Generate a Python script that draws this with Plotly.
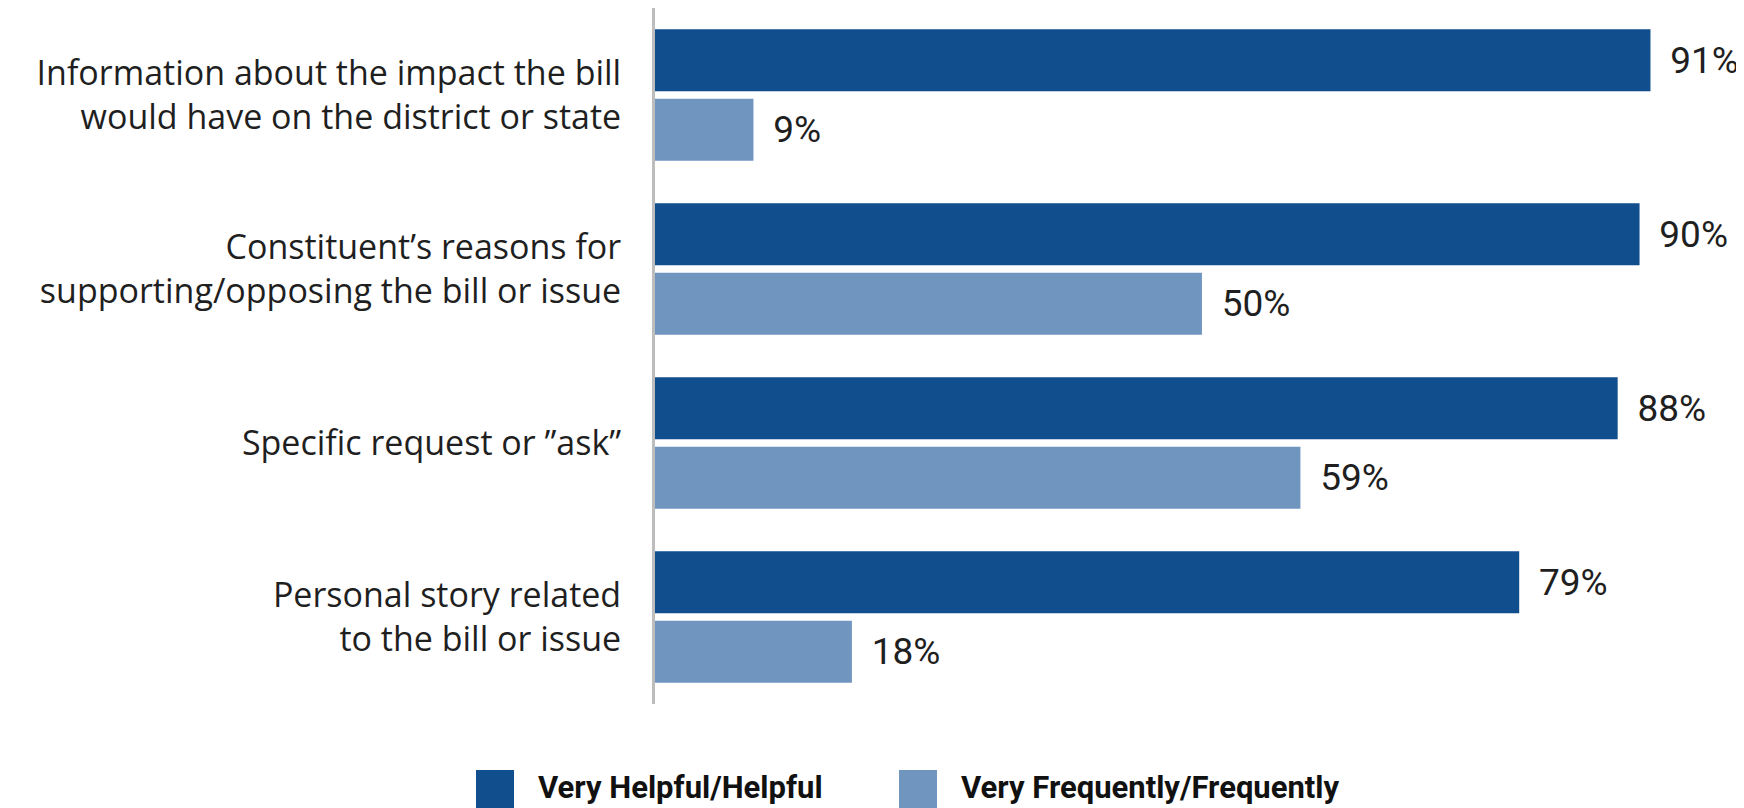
import plotly.graph_objects as go

categories = [
    "Information about the impact the bill<br>would have on the district or state",
    "Constituent’s reasons for<br>supporting/opposing the bill or issue",
    "Specific request or ”ask”",
    "Personal story related<br>to the bill or issue",
]
series_names = ["Very Helpful/Helpful", "Very Frequently/Frequently"]
helpful = [91, 90, 88, 79]
frequent = [9, 50, 59, 18]

colors = ["#114E8E", "#7096C0"]

W, H = 1736, 800
ML, MR, MT, MB = 647, 6, 0, 104
PW, PH = W - ML - MR, H - MT - MB

fig = go.Figure()
for name, vals, col in zip(series_names, [helpful, frequent], colors):
    fig.add_trace(go.Bar(
        y=categories, x=vals, name=name, orientation="h",
        marker=dict(color=col, line=dict(width=0)),
        text=[f"\u00a0\u2009{v}%" for v in vals],
        textposition="outside", cliponaxis=False, constraintext="none",
        textfont=dict(family="Roboto", size=37, color="#1f1f1f"),
        showlegend=False,
    ))

fig.update_layout(
    width=W, height=H,
    margin=dict(l=ML, r=MR, t=MT, b=MB),
    barmode="group", bargap=0.2, bargroupgap=0.11,
    plot_bgcolor="white", paper_bgcolor="white",
    xaxis=dict(range=[0, 99], visible=False),
    yaxis=dict(autorange="reversed", showline=True, linecolor="#bdbdbd",
               linewidth=3, ticks="outside", ticklen=24,
               tickcolor="rgba(0,0,0,0)", showgrid=False,
               tickfont=dict(family="Open Sans", size=34, color="#1f1f1f")),
)

def px(x):
    return (x - ML) / PW

def py(y):
    return (MT + PH - y) / PH

# legend drawn manually (large squares), pixel positions within figure
leg_x = [468, 891]
for i, (name, col) in enumerate(zip(series_names, colors)):
    fig.add_shape(type="rect", xref="paper", yref="paper",
                  x0=px(leg_x[i]), x1=px(leg_x[i] + 38),
                  y0=py(806), y1=py(762),
                  fillcolor=col, line=dict(width=0), layer="above")
    fig.add_annotation(xref="paper", yref="paper",
                       x=px(leg_x[i] + 60), y=py(780),
                       xanchor="left", yanchor="middle", showarrow=False,
                       text=f"<b>{name}</b>",
                       font=dict(family="Roboto", size=31, color="#111111"))

fig.write_html("out.html")
